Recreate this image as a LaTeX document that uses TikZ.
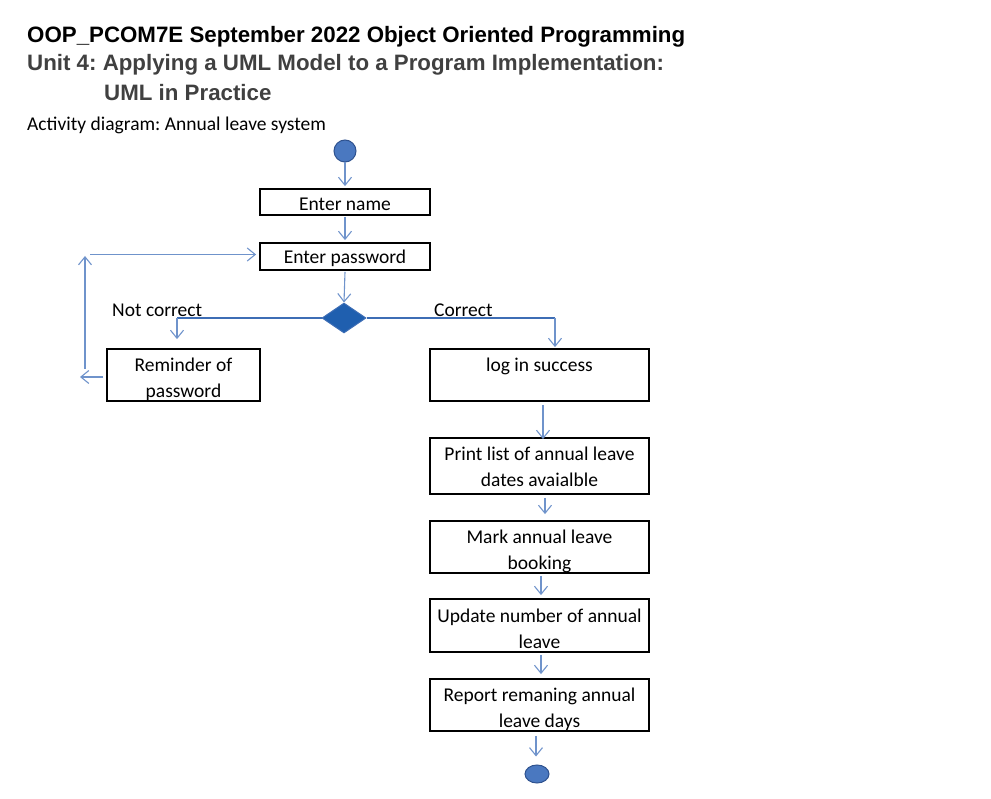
\documentclass[tikz,border=0pt]{standalone}
\usepackage{fontspec}
\setmainfont{Carlito}
\newfontfamily\titlefont{Liberation Sans}
\usetikzlibrary{arrows.meta,shapes.geometric}
\definecolor{arrblue}{HTML}{6F93CB}
\definecolor{lineblue}{HTML}{3D6DB5}
\definecolor{dfill}{HTML}{1F5FAF}
\definecolor{cfill}{HTML}{4A78C0}
\definecolor{cdraw}{HTML}{2F528F}
\definecolor{tgray}{HTML}{404040}
\newcommand\myup[1]{\rule{0pt}{#1}}
\frenchspacing
\tikzset{
  box/.style={draw=black, line width=1.8pt, rectangle, align=center, inner sep=0pt,
    font=\fontsize{19.5}{26}\selectfont},
  arr/.style={draw=arrblue, line width=1.1pt, -{Straight Barb[length=8pt,width=13pt,line width=1.1pt]}},
  tline/.style={draw=lineblue, line width=1.5pt},
  ttl/.style={anchor=base west, inner sep=0pt, font=\titlefont\bfseries\fontsize{22.3}{26}\selectfont},
  lbl/.style={anchor=base west, inner sep=0pt, font=\fontsize{19.5}{22}\selectfont},
}
\begin{document}
\begin{tikzpicture}[x=1pt,y=-1pt]
\useasboundingbox (0,0) rectangle (991,799);
% titles
\node[ttl] (t1) at (27,43) {OOP\_PCOM7E September 2022 Object Oriented Programming};
\node[ttl, text=tgray] (t2) at (27,71) {Unit 4: Applying a UML Model to a Program Implementation:};
\node[ttl, text=tgray] (t3) at (104,101) {UML in Practice};
\node[lbl] (t4) at (27,131) {Activity diagram: Annual leave system};
% start
\node[circle, fill=cfill, draw=cdraw, line width=1pt, minimum size=22pt, inner sep=0pt] (start) at (345,151) {};
\node[box, minimum width=170pt, minimum height=26pt] (name) at (345,202) {\myup{18pt}Enter name};
\node[box, minimum width=170pt, minimum height=27pt] (pass) at (345,256.5) {\myup{18pt}Enter password};
\node[diamond, fill=dfill, draw=lineblue, line width=1pt, minimum width=44pt, minimum height=30pt, inner sep=0pt] (dec) at (344,318) {};
\node[box, minimum width=153pt, minimum height=52pt] (rem) at (183.5,375) {\myup{22pt}Reminder of\\password};
\node[box, minimum width=219pt, minimum height=52pt] (login) at (539.5,375) {\myup{19pt}log in success\\\mbox{}};
\node[box, minimum width=219pt, minimum height=56pt] (print) at (539.5,466) {\myup{15pt}Print list of annual leave\\dates avaialble};
\node[box, minimum width=219pt, minimum height=52pt] (mark) at (539.5,547) {\myup{22pt}Mark annual leave\\booking};
\node[box, minimum width=219pt, minimum height=53pt] (upd) at (539.5,625.5) {\myup{20pt}Update number of annual\\leave};
\node[box, minimum width=219pt, minimum height=52pt] (rep) at (539.5,705) {\myup{22pt}Report remaning annual\\leave days};
\node[ellipse, fill=cfill, draw=cdraw, line width=1pt, minimum width=24pt, minimum height=18pt, inner sep=0pt] (end) at (537,774) {};
% labels
\node[lbl] (nc) at (112,317) {Not correct};
\node[lbl] (co) at (434,317) {Correct};
% coordinates
\coordinate (nl) at (177,318);
\coordinate (cr) at (555,318);
\coordinate (lb) at (85,369);
\coordinate (lt) at (85,256);
\coordinate (lh) at (90,254.5);
\coordinate (la) at (80,377);
% connectors
\draw[arr] (start) -- ([yshift=2pt]name.north);
\draw[arr] ([yshift=-1pt]name.south) -- ([yshift=2pt]pass.north);
\draw[arr] ([yshift=-1pt]pass.south) -- (dec.north);
\draw[tline] (nl) -- (dec.west);
\draw[tline] (dec.east) -- (cr);
\draw[arr] (nl) -- ([yshift=9pt]nl |- rem.north);
\draw[arr] (cr) -- ([yshift=1pt]cr |- login.north);
\draw[arr] ([xshift=-3pt,yshift=-2pt]rem.west) -- (la);
\draw[arr] (lb) -- (lt);
\draw[arr] (lh) -- ([xshift=-3pt,yshift=2pt]pass.west);
\draw[arr] ([xshift=3.5pt,yshift=-3pt]login.south) -- ([xshift=3.5pt,yshift=-2pt]login.south |- print.north);
\draw[arr] ([xshift=5.5pt,yshift=-3pt]print.south) -- ([xshift=5.5pt,yshift=6pt]print.south |- mark.north);
\draw[arr] ([xshift=1.5pt,yshift=-2pt]mark.south) -- ([xshift=1.5pt,yshift=3pt]mark.south |- upd.north);
\draw[arr] ([xshift=1.5pt,yshift=-2pt]upd.south) -- ([xshift=1.5pt,yshift=4pt]upd.south |- rep.north);
\draw[arr] ([xshift=-3.5pt,yshift=-4pt]rep.south) -- ([xshift=-3.5pt,yshift=8pt]rep.south |- end.north);
\end{tikzpicture}
\end{document}
